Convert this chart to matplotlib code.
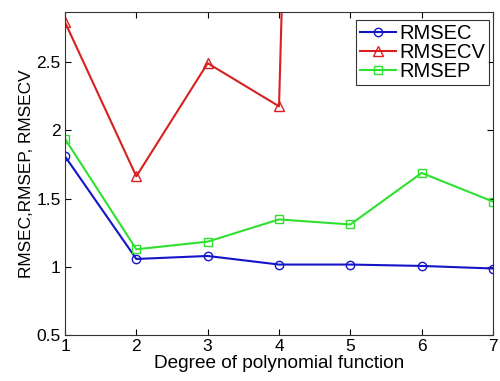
import matplotlib
matplotlib.use("Agg")
import matplotlib.pyplot as plt

plt.rcParams['font.family'] = ['Liberation Sans', 'DejaVu Sans']

degree = [1, 2, 3, 4, 5, 6, 7]
rmsec = [1.81, 1.057, 1.079, 1.016, 1.016, 1.006, 0.987]
rmsecv = [2.794, 1.663, 2.493, 2.177, 20.8, 30.0, 40.0]  # 5-7 run far above the axes
rmsep = [1.938, 1.128, 1.184, 1.347, 1.31, 1.688, 1.478]

yticks = [0.5, 1, 1.5, 2, 2.5]
ytick_labels = ["0.5", "1", "1.5", "2", "2.5"]

fig = plt.figure(figsize=(5, 3.81), dpi=100)
ax = fig.add_axes([0.13, 0.121, 0.856, 0.848])

ax.plot(degree, rmsec, color='#1414c8', marker='o', markersize=6, markerfacecolor='none',
        linewidth=1.5, label='RMSEC')
ax.plot(degree, rmsecv, color='#d82020', marker='^', markersize=7, markerfacecolor='none',
        linewidth=1.5, label='RMSECV')
ax.plot(degree, rmsep, color='#30e030', marker='s', markersize=6, markerfacecolor='none',
        linewidth=1.5, label='RMSEP')

ax.set_xlim(1, 7)
ax.set_ylim(0.5, 2.87)
ax.set_xticks(degree)
ax.set_yticks(yticks)
ax.set_yticklabels(ytick_labels)
ax.tick_params(direction='in', top=True, right=True, labelsize=12.5, length=4, pad=3)
for s in ax.spines.values():
    s.set_linewidth(0.8)
    s.set_color('#333333')

ax.set_xlabel("Degree of polynomial function", fontsize=13.7, labelpad=1)
ax.set_ylabel("RMSEC,RMSEP, RMSECV", fontsize=12.4, labelpad=2)

leg = ax.legend(loc='upper right', bbox_to_anchor=(0.991, 0.975), fontsize=14.5,
                fancybox=False, edgecolor='black', borderpad=0.2, labelspacing=0.0,
                handlelength=1.8, handletextpad=0.15, borderaxespad=0)
leg.get_frame().set_linewidth(0.8)

fig.savefig("out.png", dpi=100)
